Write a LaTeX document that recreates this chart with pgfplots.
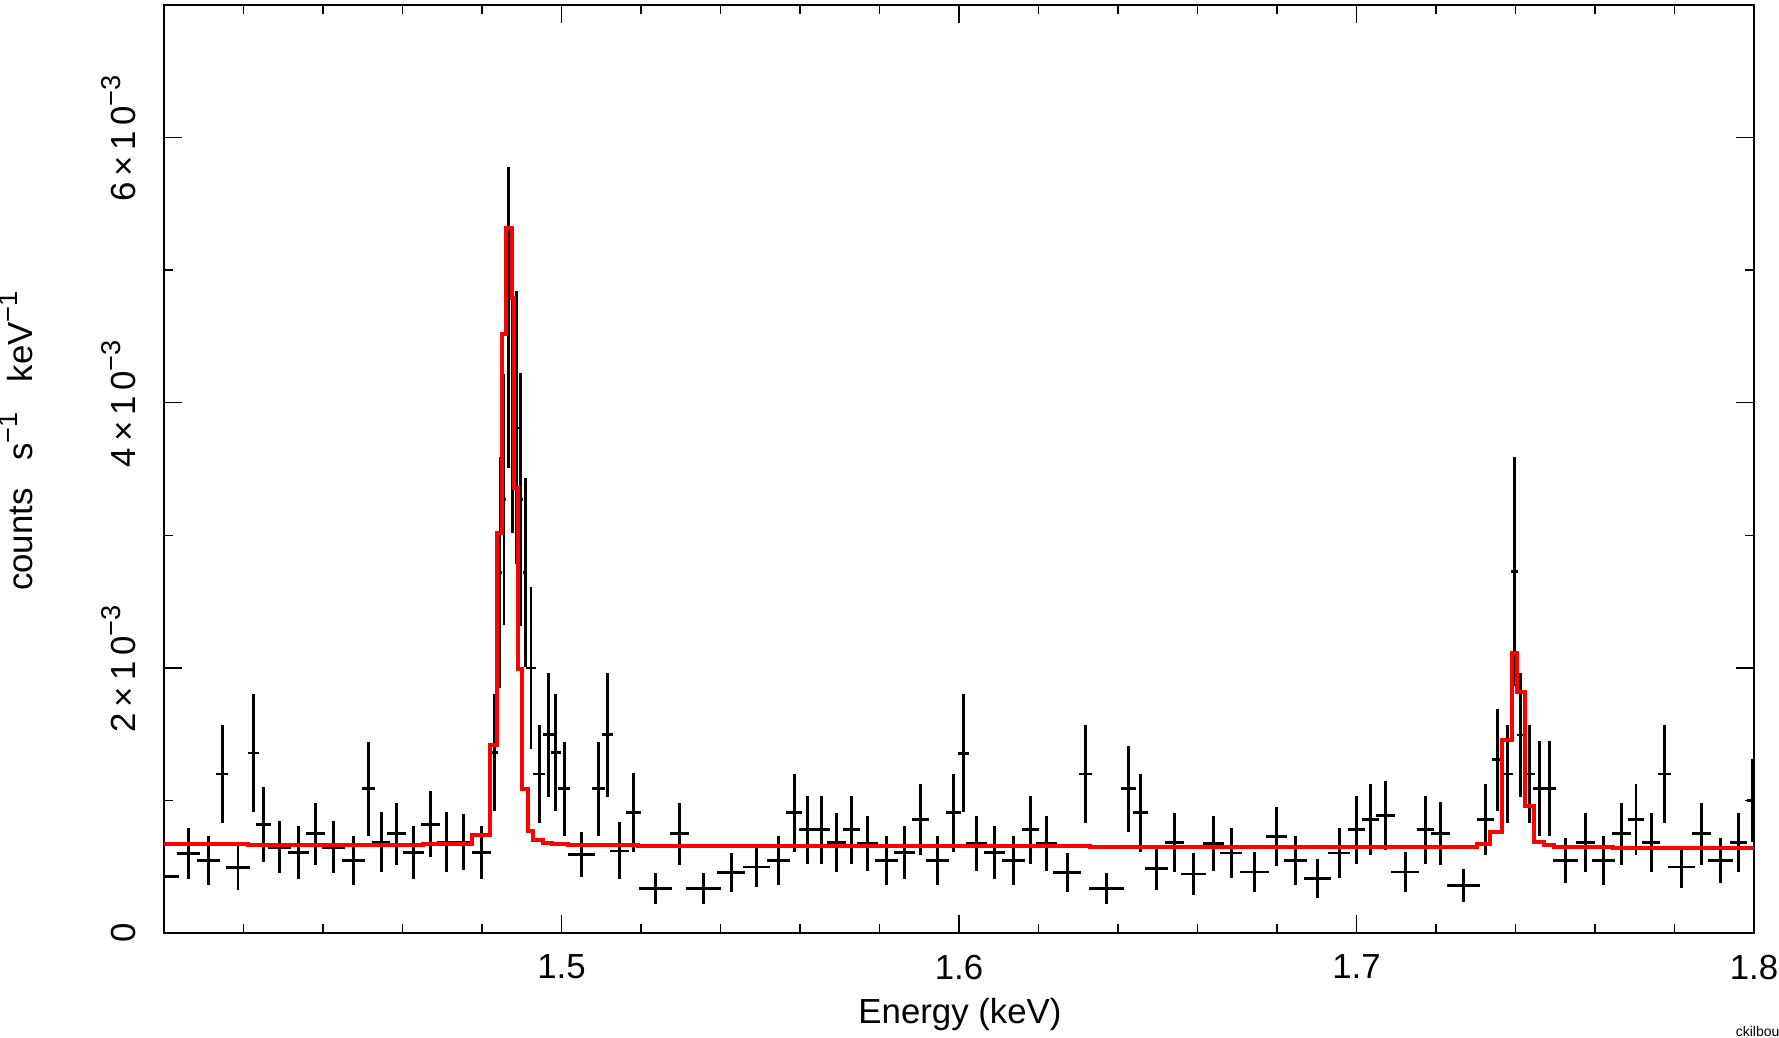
\documentclass[border=0pt]{standalone}
\usepackage{fontspec}
\setmainfont{Liberation Sans}
\usepackage{pgfplots}
\pgfplotsset{compat=1.18}
\usepackage{pgfplotstable}

% energy (keV), rate (1e-3 counts/s/keV), half bin width, 1-sigma error
\pgfplotstableread{
x y ex ey
1.39980 0.426 0.00405 0.130
1.40612 0.599 0.00285 0.190
1.41115 0.546 0.00293 0.184
1.41467 1.200 0.00155 0.371
1.41862 0.494 0.00310 0.170
1.42247 1.358 0.00143 0.444
1.42499 0.820 0.00189 0.282
1.42901 0.647 0.00293 0.197
1.43379 0.607 0.00272 0.203
1.43807 0.749 0.00239 0.235
1.44260 0.647 0.00293 0.197
1.44763 0.546 0.00289 0.184
1.45149 1.088 0.00164 0.356
1.45467 0.687 0.00226 0.224
1.45845 0.749 0.00243 0.235
1.46272 0.607 0.00268 0.203
1.46700 0.820 0.00243 0.248
1.47103 0.687 0.00231 0.224
1.47530 0.687 0.00252 0.209
1.47992 0.607 0.00239 0.203
1.48309 1.360 0.00105 0.440
1.48453 2.720 0.00050 0.870
1.48553 3.270 0.00050 0.950
1.48661 4.640 0.00050 1.135
1.48772 4.080 0.00050 1.065
1.48873 3.810 0.00050 1.030
1.48974 3.270 0.00050 0.955
1.49089 2.720 0.00050 0.715
1.49233 2.000 0.00117 0.610
1.49442 1.200 0.00155 0.370
1.49669 1.496 0.00147 0.467
1.49853 1.360 0.00122 0.440
1.50071 1.088 0.00155 0.356
1.50499 0.590 0.00335 0.170
1.50926 1.088 0.00164 0.356
1.51153 1.496 0.00134 0.467
1.51455 0.619 0.00239 0.215
1.51807 0.910 0.00189 0.297
1.52360 0.336 0.00420 0.117
1.52964 0.749 0.00239 0.233
1.53568 0.336 0.00440 0.117
1.54272 0.456 0.00356 0.149
1.54901 0.499 0.00344 0.152
1.55463 0.546 0.00293 0.182
1.55857 0.907 0.00197 0.295
1.56184 0.779 0.00210 0.256
1.56536 0.779 0.00210 0.256
1.56922 0.684 0.00235 0.223
1.57291 0.779 0.00210 0.256
1.57694 0.674 0.00256 0.208
1.58172 0.546 0.00281 0.182
1.58625 0.609 0.00268 0.200
1.59027 0.855 0.00222 0.267
1.59455 0.546 0.00289 0.182
1.59857 0.907 0.00189 0.295
1.60109 1.356 0.00138 0.444
1.60436 0.674 0.00260 0.208
1.60889 0.609 0.00264 0.200
1.61366 0.546 0.00285 0.182
1.61794 0.779 0.00210 0.256
1.62205 0.674 0.00268 0.208
1.62725 0.456 0.00352 0.149
1.63178 1.200 0.00164 0.370
1.63714 0.336 0.00440 0.117
1.64259 1.088 0.00189 0.326
1.64561 0.907 0.00189 0.295
1.64964 0.486 0.00289 0.160
1.65417 0.684 0.00239 0.223
1.65895 0.444 0.00314 0.156
1.66398 0.674 0.00264 0.208
1.66851 0.604 0.00281 0.190
1.67429 0.459 0.00365 0.149
1.67991 0.729 0.00260 0.220
1.68461 0.546 0.00285 0.182
1.69014 0.411 0.00335 0.148
1.69568 0.604 0.00281 0.190
1.70004 0.779 0.00210 0.256
1.70348 0.855 0.00210 0.267
1.70733 0.887 0.00235 0.260
1.71228 0.459 0.00352 0.149
1.71731 0.779 0.00214 0.256
1.72117 0.749 0.00239 0.236
1.72687 0.358 0.00419 0.127
1.73240 0.855 0.00218 0.267
1.73542 1.308 0.00122 0.385
1.73794 1.200 0.00143 0.371
1.73970 2.729 0.00084 0.865
1.74121 1.494 0.00075 0.465
1.74347 1.200 0.00138 0.371
1.74599 1.088 0.00168 0.357
1.74850 1.088 0.00159 0.357
1.75261 0.546 0.00323 0.167
1.75756 0.684 0.00239 0.223
1.76209 0.546 0.00293 0.182
1.76671 0.749 0.00239 0.233
1.77030 0.855 0.00210 0.267
1.77416 0.684 0.00231 0.223
1.77752 1.200 0.00159 0.371
1.78179 0.499 0.00335 0.160
1.78674 0.749 0.00239 0.233
1.79152 0.546 0.00314 0.167
1.79613 0.684 0.00218 0.223
1.79966 1.000 0.00130 0.312
}\datatable

% model: left bin edge (keV), model rate (1e-3 counts/s/keV)
\pgfplotstableread{
x y
1.40000 0.674
1.42121 0.662
1.46523 0.674
1.47741 0.737
1.48201 1.420
1.48370 3.020
1.48511 4.520
1.48596 5.320
1.48747 4.790
1.48812 3.360
1.48898 1.990
1.48999 1.088
1.49165 0.770
1.49290 0.700
1.49542 0.679
1.49753 0.669
1.50171 0.662
1.51932 0.656
1.63295 0.647
1.73023 0.669
1.73358 0.762
1.73652 1.456
1.73904 2.115
1.74030 1.820
1.74239 0.955
1.74465 0.684
1.74717 0.662
1.74968 0.649
1.76459 0.641
1.80000 0.641
}\modeltable

\newcommand{\lbl}{\fontsize{8.7}{10}\selectfont}
\newcommand{\sups}[1]{\textsuperscript{\fontsize{6.8}{7}\selectfont #1}}

\begin{document}
\begin{tikzpicture}[x=1pt,y=1pt]
\begin{axis}[
  scale only axis, width=397.5pt, height=232pt,
  xmin=1.4, xmax=1.8, ymin=0, ymax=7,
  xtick={1.5,1.6,1.7,1.8}, xticklabels={1.5,1.6,1.7,1.8},
  minor xtick={1.42,1.44,1.46,1.48,1.52,1.54,1.56,1.58,1.62,1.64,1.66,1.68,1.72,1.74,1.76,1.78},
  ytick={0,2,4,6},
  yticklabels={0,2\,×\,1\,0\sups{−3},4\,×\,1\,0\sups{−3},6\,×\,1\,0\sups{−3}},
  minor ytick={1,3,5,7},
  tick align=inside, xtick pos=both, ytick pos=both,
  xticklabel pos=lower, yticklabel pos=left,
  major tick length=4.4pt, minor tick length=2.25pt,
  axis line style={line width=0.35pt},
  every tick/.style={black, line width=0.35pt},
  xticklabel style={font=\lbl, anchor=north, inner xsep=0pt, inner ysep=5.25pt},
  yticklabel style={font=\lbl, rotate=90, anchor=south, inner xsep=0pt, inner ysep=6.75pt},
]
\addplot[draw=none, mark=none,
  error bars/.cd, x dir=both, x explicit, y dir=both, y explicit,
  error mark=none, error bar style={draw=black, line width=0.67pt}]
  table[x=x, y=y, x error=ex, y error=ey] {\datatable};
\addplot[const plot, color={rgb,255:red,255;green,0;blue,0}, line width=1pt]
  table[x=x, y=y] {\modeltable};
\coordinate (O) at (rel axis cs:0,0);
\end{axis}
\pgfresetboundingbox
\begin{scope}[shift={(O)}]
\path[use as bounding box] (-41,-26.25) rectangle (403.75,233.25);
\node[rotate=90, anchor=base, font=\lbl, inner sep=0pt] at (-32.75,123.25)
  {counts\hspace{0.8em}s\sups{−1}\hspace{0.8em}keV\sups{−1}};
\node[anchor=base, font=\lbl, inner sep=0pt] at (199,-22.55) {Energy (keV)};
\node[anchor=base west, font=\fontsize{3.5}{4}\selectfont, inner sep=0pt] at (392.75,-25.95) {ckilbourne};
\end{scope}
\end{tikzpicture}
\end{document}
